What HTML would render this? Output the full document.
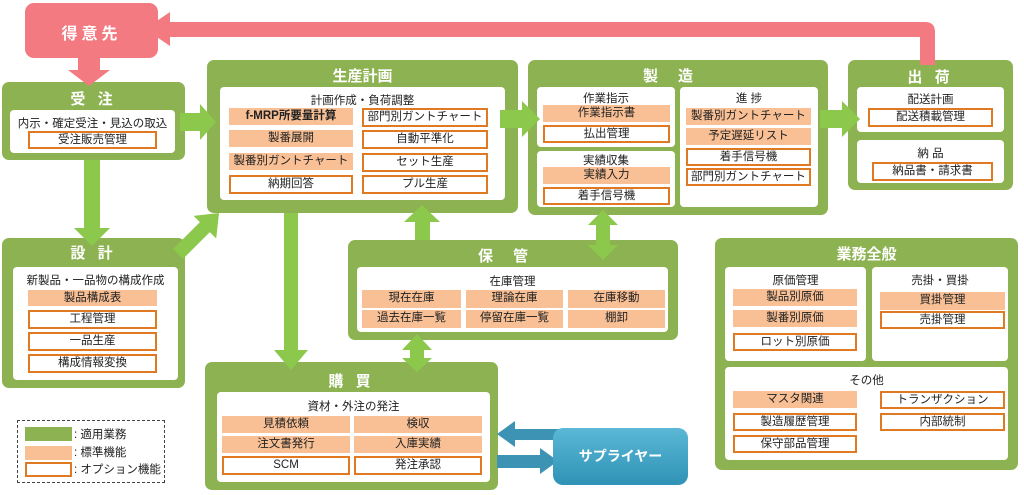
<!DOCTYPE html>
<html><head><meta charset="utf-8"><style>
*{margin:0;padding:0;box-sizing:border-box}
body{width:1024px;height:495px;background:#fff;position:relative;overflow:hidden;font-family:"Liberation Sans","Noto Sans CJK JP",sans-serif;color:#222}
.g{position:absolute;background:#8db252;border-radius:7px}
.t{position:absolute;left:0;right:0;text-align:center;color:#fff;font-weight:bold;font-size:15px;letter-spacing:4px}
.w{position:absolute;background:#fff;border-radius:4px}
.l{position:absolute;text-align:center;font-size:11.5px;white-space:nowrap}
.s{position:absolute;background:#f9c096;text-align:center;font-size:11.5px;line-height:17px;height:17px;white-space:nowrap}
.o{position:absolute;background:#fff;border:2.5px solid #e07a22;text-align:center;font-size:11.5px;line-height:14px;white-space:nowrap}
svg{position:absolute;left:0;top:0;z-index:5}
</style></head><body>

<div class="g" style="left:25px;top:3px;width:133px;height:55px;background:#f47a82;border-radius:9px"><div class="t" style="top:17px;font-size:16px">得意先</div></div>

<!-- 受注 -->
<div class="g" style="left:2px;top:82px;width:183px;height:78px"><div class="t" style="top:6px">受 注</div></div>
<div class="w" style="left:10px;top:110px;width:165px;height:43px"></div>
<div class="l" style="left:10px;top:115px;width:165px">内示・確定受注・見込の取込</div>
<div class="o" style="left:28px;top:131px;width:129px;height:18px">受注販売管理</div>

<!-- 設計 -->
<div class="g" style="left:2px;top:238px;width:183px;height:150px"><div class="t" style="top:4px">設 計</div></div>
<div class="w" style="left:13px;top:267px;width:165px;height:113px"></div>
<div class="l" style="left:13px;top:272px;width:165px">新製品・一品物の構成作成</div>
<div class="s" style="left:28px;top:290px;width:129px;height:16px;line-height:16px">製品構成表</div>
<div class="o" style="left:28px;top:310px;width:129px;height:19px">工程管理</div>
<div class="o" style="left:28px;top:332px;width:129px;height:19px">一品生産</div>
<div class="o" style="left:28px;top:354px;width:129px;height:19px">構成情報変換</div>

<!-- 生産計画 -->
<div class="g" style="left:207px;top:60px;width:311px;height:153px"><div class="t" style="top:5px;letter-spacing:0">生産計画</div></div>
<div class="w" style="left:220px;top:87px;width:285px;height:113px"></div>
<div class="l" style="left:220px;top:92px;width:285px">計画作成・負荷調整</div>
<div class="s" style="left:229px;top:108px;width:124px;font-weight:bold">f-MRP所要量計算</div>
<div class="s" style="left:229px;top:130px;width:124px">製番展開</div>
<div class="s" style="left:229px;top:153px;width:124px">製番別ガントチャート</div>
<div class="o" style="left:229px;top:175px;width:124px;height:19px">納期回答</div>
<div class="o" style="left:362px;top:108px;width:126px;height:19px">部門別ガントチャート</div>
<div class="o" style="left:362px;top:130px;width:126px;height:19px">自動平準化</div>
<div class="o" style="left:362px;top:153px;width:126px;height:19px">セット生産</div>
<div class="o" style="left:362px;top:175px;width:126px;height:19px">プル生産</div>

<!-- 製造 -->
<div class="g" style="left:528px;top:60px;width:300px;height:155px"><div class="t" style="top:5px;letter-spacing:20px">製造</div></div>
<div class="w" style="left:537px;top:87px;width:138px;height:60px"></div>
<div class="w" style="left:537px;top:151px;width:138px;height:56px"></div>
<div class="w" style="left:680px;top:87px;width:138px;height:120px"></div>
<div class="l" style="left:537px;top:90px;width:138px">作業指示</div>
<div class="s" style="left:543px;top:105px;width:127px">作業指示書</div>
<div class="o" style="left:543px;top:125px;width:127px;height:18px">払出管理</div>
<div class="l" style="left:537px;top:152px;width:138px">実績収集</div>
<div class="s" style="left:543px;top:167px;width:127px">実績入力</div>
<div class="o" style="left:543px;top:187px;width:127px;height:18px">着手信号機</div>
<div class="l" style="left:680px;top:90px;width:138px">進 捗</div>
<div class="s" style="left:686px;top:108px;width:125px">製番別ガントチャート</div>
<div class="s" style="left:686px;top:128px;width:125px">予定遅延リスト</div>
<div class="o" style="left:686px;top:148px;width:125px;height:18px">着手信号機</div>
<div class="o" style="left:686px;top:168px;width:125px;height:18px">部門別ガントチャート</div>

<!-- 出荷 -->
<div class="g" style="left:848px;top:60px;width:165px;height:130px"><div class="t" style="top:6px">出 荷</div></div>
<div class="w" style="left:857px;top:87px;width:147px;height:45px"></div>
<div class="l" style="left:857px;top:91px;width:147px">配送計画</div>
<div class="o" style="left:868px;top:108px;width:125px;height:19px">配送積載管理</div>
<div class="w" style="left:857px;top:140px;width:147px;height:43px"></div>
<div class="l" style="left:857px;top:145px;width:147px">納 品</div>
<div class="o" style="left:872px;top:162px;width:121px;height:19px">納品書・請求書</div>

<!-- 保管 -->
<div class="g" style="left:348px;top:240px;width:330px;height:100px"><div class="t" style="top:5px;letter-spacing:20px">保管</div></div>
<div class="w" style="left:357px;top:267px;width:311px;height:65px"></div>
<div class="l" style="left:357px;top:273px;width:311px">在庫管理</div>
<div class="s" style="left:362px;top:290px;width:99px;height:18px">現在在庫</div>
<div class="s" style="left:466px;top:290px;width:97px;height:18px">理論在庫</div>
<div class="s" style="left:568px;top:290px;width:97px;height:18px">在庫移動</div>
<div class="s" style="left:362px;top:310px;width:99px;height:18px">過去在庫一覧</div>
<div class="s" style="left:466px;top:310px;width:97px;height:18px">停留在庫一覧</div>
<div class="s" style="left:568px;top:310px;width:97px;height:18px">棚卸</div>

<!-- 購買 -->
<div class="g" style="left:205px;top:362px;width:293px;height:128px"><div class="t" style="top:8px">購 買</div></div>
<div class="w" style="left:217px;top:392px;width:273px;height:90px"></div>
<div class="l" style="left:217px;top:398px;width:273px">資材・外注の発注</div>
<div class="s" style="left:222px;top:416px;width:128px">見積依頼</div>
<div class="s" style="left:354px;top:416px;width:128px">検収</div>
<div class="s" style="left:222px;top:436px;width:128px">注文書発行</div>
<div class="s" style="left:354px;top:436px;width:128px">入庫実績</div>
<div class="o" style="left:222px;top:456px;width:128px;height:19px">SCM</div>
<div class="o" style="left:354px;top:456px;width:128px;height:19px">発注承認</div>

<!-- supplier -->
<div style="position:absolute;left:553px;top:428px;width:135px;height:57px;background:linear-gradient(#5bb8d6,#2f92b6);border-radius:10px;color:#fff;font-weight:bold;font-size:14px;text-align:center;line-height:57px;z-index:6">サプライヤー</div>

<!-- 業務全般 -->
<div class="g" style="left:715px;top:238px;width:303px;height:232px"><div class="t" style="top:5px;letter-spacing:0">業務全般</div></div>
<div class="w" style="left:725px;top:267px;width:141px;height:94px"></div>
<div class="w" style="left:872px;top:267px;width:136px;height:94px"></div>
<div class="w" style="left:725px;top:367px;width:283px;height:93px"></div>
<div class="l" style="left:725px;top:272px;width:141px">原価管理</div>
<div class="s" style="left:733px;top:289px;width:124px">製品別原価</div>
<div class="s" style="left:733px;top:310px;width:124px">製番別原価</div>
<div class="o" style="left:733px;top:333px;width:124px;height:18px">ロット別原価</div>
<div class="l" style="left:872px;top:272px;width:136px">売掛・買掛</div>
<div class="s" style="left:880px;top:292px;width:125px;height:18px">買掛管理</div>
<div class="o" style="left:880px;top:311px;width:125px;height:18px">売掛管理</div>
<div class="l" style="left:725px;top:372px;width:283px">その他</div>
<div class="s" style="left:733px;top:391px;width:124px">マスタ関連</div>
<div class="o" style="left:733px;top:413px;width:124px;height:18px">製造履歴管理</div>
<div class="o" style="left:733px;top:435px;width:124px;height:18px">保守部品管理</div>
<div class="o" style="left:880px;top:391px;width:125px;height:18px">トランザクション</div>
<div class="o" style="left:880px;top:413px;width:125px;height:18px">内部統制</div>

<!-- legend -->
<div style="position:absolute;left:17px;top:420px;width:148px;height:63px;border:1.5px dashed #444"></div>
<div style="position:absolute;left:25px;top:427px;width:47px;height:14px;background:#8db252"></div>
<div style="position:absolute;left:25px;top:446px;width:47px;height:14px;background:#f9c096"></div>
<div style="position:absolute;left:25px;top:462px;width:47px;height:15px;border:2.5px solid #e07a22"></div>
<div class="l" style="left:74px;top:426px;text-align:left;font-size:11.5px">: 適用業務</div>
<div class="l" style="left:74px;top:444px;text-align:left;font-size:11.5px">: 標準機能</div>
<div class="l" style="left:74px;top:461px;text-align:left;font-size:11.5px">: オプション機能</div>

<svg width="1024" height="495">
<!-- pink arrows -->
<path d="M920 65 V37 H170 V46 L145 29 L170 12 V22 H925 Q935 22 935 32 V65 Z" fill="#f47a82"/>
<path d="M78 58 H100 V70 H110 L89 86 L68 70 H78 Z" fill="#f47a82"/>
<!-- green arrows -->
<g fill="#8cc84b">
<path d="M84 160 H100 V228 H110 L92 246 L74 228 H84 Z"/>
<path d="M180 113 H200 V104 L216 122 L200 140 V131 H180 Z"/>
<g transform="translate(178,254) rotate(-45)"><path d="M0 -7 H38 V-16 L58 0 L38 16 V7 H0 Z"/></g>
<path d="M500 110 H522 V101 L540 119 L522 137 V128 H500 Z"/>
<path d="M820 110 H842 V101 L860 119 L842 137 V128 H820 Z"/>
<path d="M284 213 H298 V350 H308 L291 370 L274 350 H284 Z"/>
<path d="M415 240 H430 V222 H440 L422 205 L404 222 H415 Z"/>
<path d="M596 225 H610 V245 H618 L603 260 L588 245 H596 V225 H588 L603 210 L618 225 Z"/>
<path d="M410 350 H424 V358 H432 L417 372 L402 358 H410 V350 H402 L417 334 L432 350 Z"/>
</g>
<!-- blue arrows -->
<g fill="#3d93b4">
<path d="M560 429 H515 V421 L497 434 L515 447 V440 H560 Z"/>
<path d="M497 455 H540 V448 L558 461 L540 474 V468 H497 Z"/>
</g>
</svg>
</body></html>
